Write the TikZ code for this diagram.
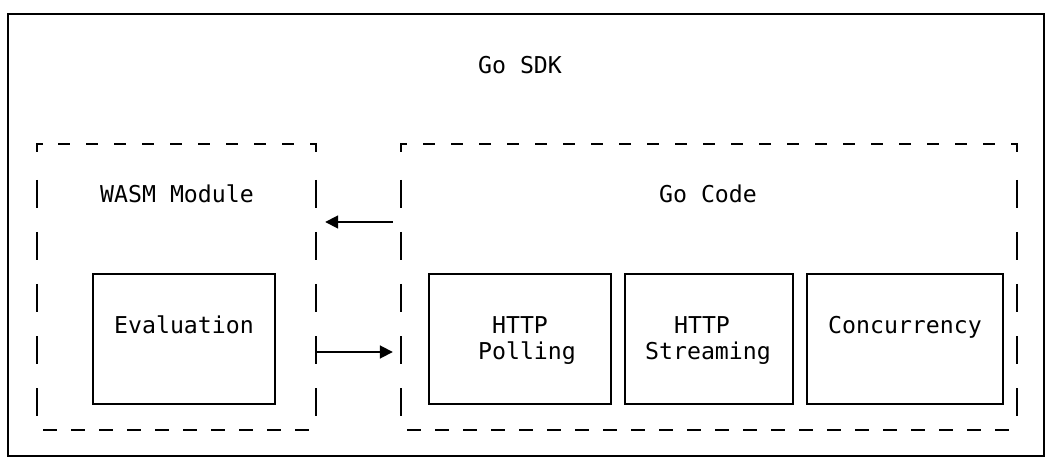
\documentclass[tikz,border=0pt]{standalone}
\usepackage{fontspec}
\setmonofont{DejaVu Sans Mono}
\usetikzlibrary{arrows.meta}
\begin{document}
\begin{tikzpicture}[x=1pt,y=-1pt,
  box/.style={draw, line width=1.8pt, inner sep=0pt},
  region/.style={draw=none, inner sep=0pt},
  txt/.style={font=\fontsize{23.2}{26}\selectfont\ttfamily, inner sep=0pt, anchor=base},
  dsh/.style={line width=1.8pt},
  conn/.style={line width=1.8pt, -{Triangle[length=13pt,width=13pt]}}]
\useasboundingbox (0,0) rectangle (1052,470);
\fill[white] (0,0) rectangle (1052,470);
% outer box
\node[box, minimum width=1036pt, minimum height=442pt] (sdk) at (526,235) {};
% dashed regions (nodes for anchors)
\node[region, minimum width=279pt, minimum height=286pt] (wasm) at (176.5,287) {};
\node[region, minimum width=616pt, minimum height=286pt] (gocode) at (709,287) {};
% WASM dashed outline
\draw[dsh] (37,152) -- (37,144) -- (43,144);
\draw[dsh] (310,144) -- (316,144) -- (316,152);
\foreach \x in {58,86,...,282} \draw[dsh] (\x,144) -- ++(12,0);
\foreach \x in {43,71,...,295} \draw[dsh] (\x,430) -- ++(14,0);
\foreach \y in {180,232,284,336,388} {\draw[dsh] (37,\y) -- ++(0,28); \draw[dsh] (316,\y) -- ++(0,28);}
% Go Code dashed outline
\draw[dsh] (401,152) -- (401,144) -- (407,144);
\draw[dsh] (1011,144) -- (1017,144) -- (1017,152);
\foreach \x in {423,451,...,983} \draw[dsh] (\x,144) -- ++(12,0);
\foreach \x in {407,435,...,995} \draw[dsh] (\x,430) -- ++(14,0);
\foreach \y in {180,232,284,336,388} {\draw[dsh] (401,\y) -- ++(0,28); \draw[dsh] (1017,\y) -- ++(0,28);}
% inner boxes
\node[box, minimum width=182pt, minimum height=130pt] (eval) at (184,339) {};
\node[box, minimum width=182pt, minimum height=130pt] (poll) at (520,339) {};
\node[box, minimum width=168pt, minimum height=130pt] (stream) at (709,339) {};
\node[box, minimum width=196pt, minimum height=130pt] (conc) at (905,339) {};
% texts
\node[txt] (t0) at (520,74) {Go SDK};
\node[txt] (t1) at (177,203) {WASM Module};
\node[txt] (t2) at (708,203) {Go Code};
\node[txt] (t3) at (184,333) {Evaluation};
\node[txt] (t4) at (520,333) {HTTP};
\node[txt] (t5) at (527,359) {Polling};
\node[txt] (t6) at (702,333) {HTTP};
\node[txt] (t7) at (708,359) {Streaming};
\node[txt] (t8) at (905,333) {Concurrency};
% connectors
\path (0,222) coordinate (r1) (0,352) coordinate (r2);
\draw[conn, shorten <=8pt, shorten >=9pt] (gocode.west |- r1) -- (wasm.east |- r1);
\draw[conn, shorten >=8pt] (wasm.east |- r2) -- (gocode.west |- r2);
\end{tikzpicture}
\end{document}
